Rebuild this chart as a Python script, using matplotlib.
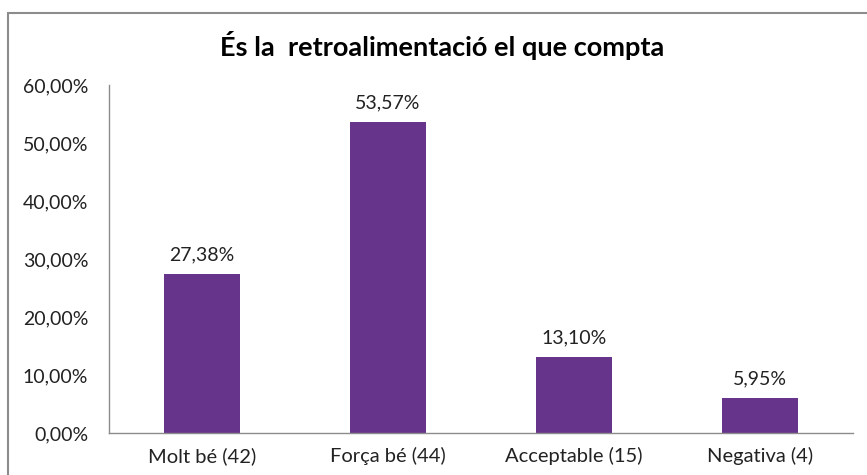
import matplotlib
matplotlib.use("Agg")
import matplotlib.pyplot as plt
from matplotlib.patches import Rectangle

categories = ["Molt bé (42)", "Força bé (44)", "Acceptable (15)", "Negativa (4)"]
values = [27.38, 53.57, 13.10, 5.95]
yticks = [0, 10, 20, 30, 40, 50, 60]
title = "És la  retroalimentació el que compta"

plt.rcParams['font.family'] = ['Lato', 'DejaVu Sans']

fig = plt.figure(figsize=(8.67, 4.75), dpi=100)
fig.patch.set_facecolor("white")
# outer chart frame (extends past right/bottom edges)
fig.patches.append(Rectangle((8/867, -0.05), 1.05, 1 - 13/475 + 0.05,
                             transform=fig.transFigure, fill=False,
                             edgecolor="#8c8c8c", linewidth=1.5))

ax = fig.add_axes([109/867, 1 - 433/475, (853 - 109)/867, (433 - 85)/475])
x = range(len(categories))
bars = ax.bar(x, values, width=0.41, color="#66348A")
ax.set_xlim(-0.5, len(categories) - 0.5)
ax.set_ylim(0, 60)
ax.set_yticks(yticks)
ax.set_yticklabels([f"{v:.2f}".replace(".", ",") + "%" for v in yticks], fontsize=14, color="#222222")
ax.set_xticks(list(x))
ax.set_xticklabels(categories, fontsize=14.5, color="#222222")
ax.tick_params(axis="both", length=0)
ax.tick_params(axis="y", pad=15)
ax.tick_params(axis="x", pad=10)
for s in ["top", "right"]:
    ax.spines[s].set_visible(False)
for s in ["left", "bottom"]:
    ax.spines[s].set_color("#8c8c8c")
    ax.spines[s].set_linewidth(1.0)

for xi, v in zip(x, values):
    ax.annotate(f"{v:.2f}".replace(".", ",") + "%", (xi, v), xytext=(0, 8),
                textcoords="offset points", ha="center", va="bottom",
                fontsize=14, color="#222222")

fig.text(442/867, 1 - 46/475, title, ha="center", va="center",
         fontsize=19.5, fontweight="bold", color="black")

fig.savefig("out.png", dpi=100)
